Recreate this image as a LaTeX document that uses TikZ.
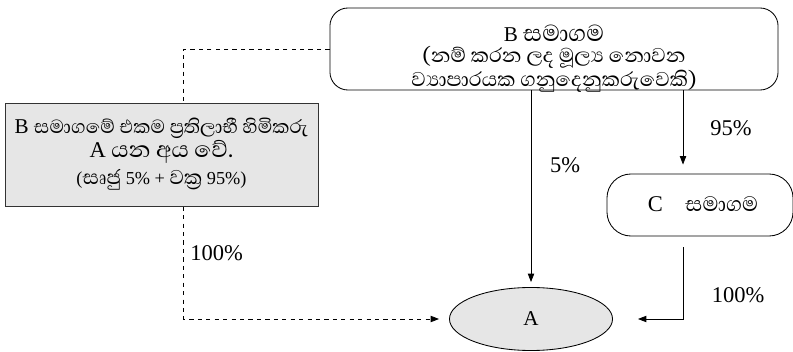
\documentclass[tikz,border=0pt]{standalone}
\usepackage{fontspec}
\usepackage{tikz}
\usetikzlibrary{shapes.geometric, arrows.meta, positioning, calc}
\setmainfont{Liberation Serif}
\newfontfamily\sinhalafont[Script=Sinhala, Scale=1.4]{Abhaya Libre}
\newcommand{\sitext}[1]{{\sinhalafont #1}}
\definecolor{boxgray}{HTML}{E6E6E6}

\begin{document}
\begin{tikzpicture}[
    x=0.025cm, y=-0.025cm,
    company/.style={rectangle, draw, rounded corners=#1, fill=white, line width=0.6pt},
    ownerbox/.style={rectangle, draw=black!80, minimum width=7.825cm, minimum height=2.575cm, fill=boxgray, line width=0.6pt},
    label/.style={align=center, inner sep=0pt},
    person/.style={ellipse, draw, minimum width=4.075cm, minimum height=1.575cm, fill=boxgray, line width=0.6pt, font=\fontsize{15}{18}\selectfont},
    arrow/.style={-{Triangle[length=6pt, width=4.5pt]}, line width=0.6pt},
    dasharrow/.style={arrow, dashed},
    pct/.style={font=\fontsize{16}{19}\selectfont, inner sep=0pt}
]
\useasboundingbox (0,0) rectangle (793,352);

% ===== COMPANIES =====
\node[company=0.45cm, minimum width=11.2cm, minimum height=2.05cm] (bco) at (554,49) {};
\node[label, font=\fontsize{13}{17}\selectfont] (btext) at (554,59)
    {{\fontsize{15}{17}\selectfont B\ \sitext{සමාගම}}\\[-2pt]
     \sitext{(නම් කරන ලද මූල්‍ය නොවන}\\
     \sitext{ව්‍යාපාරයක ගනුදෙනුකරුවෙකි)}};

\node[company=0.6cm, minimum width=4.65cm, minimum height=1.55cm] (cco) at (700,205) {};
\node[label, font=\fontsize{16}{19}\selectfont] (ctext) at (703,204)
    {C\quad{\fontsize{13.5}{16}\selectfont\sitext{සමාගම}}};

% ===== BENEFICIAL OWNER =====
\node[person] (a) at (531,319) {A};

% dashed link runs behind the grey box
\draw[dasharrow, shorten >=0.25cm] (bco.west) -- ++(-146,0) |- (a.west);

\node[ownerbox] (owner) at (161.5,154.5) {};
\node[label, font=\fontsize{13}{17.5}\selectfont] (otext) at (161.5,154)
    {{\fontsize{15}{17.5}\selectfont B {\fontsize{12.3}{17.5}\selectfont\sitext{සමාගමේ එකම ප්‍රතිලාභී හිමිකරු}}}\\
     {\fontsize{16}{17.5}\selectfont A {\fontsize{14.5}{17.5}\selectfont\sitext{යන අය වේ.}}}\\[1.5pt]
     {\fontsize{13}{17.5}\selectfont (\sitext{සෘජු} 5\% + \sitext{වක්‍ර} 95\%)}};

% ===== OWNERSHIP ARROWS =====
\coordinate (cin) at ([xshift=-0.425cm]cco.north);
\coordinate (cout) at ([xshift=-0.425cm]cco.south);

\draw[arrow, shorten >=0.125cm] (a.north |- bco.south) -- (a.north);
\draw[arrow, shorten >=0.225cm] (bco.south -| cin) -- (cin);
\draw[arrow, shorten <=0.275cm, shorten >=0.625cm] (cout) |- (a.east);

% ===== PERCENTAGES =====
\node[pct, anchor=west] (p100a) at (190,253) {100\%};
\node[pct] (p5) at (565,165) {5\%};
\node[pct] (p95) at (731,128) {95\%};
\node[pct] (p100c) at (738,295) {100\%};

\end{tikzpicture}
\end{document}
